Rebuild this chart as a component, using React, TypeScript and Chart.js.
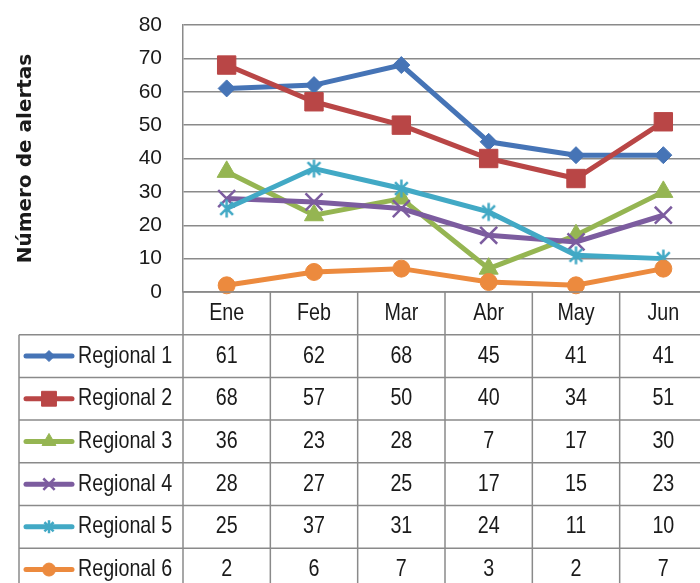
import React, { useEffect, useRef } from 'react';
import { Chart, registerables } from 'chart.js';

Chart.register(...registerables);

// ---- data ----
const categories = ['Ene', 'Feb', 'Mar', 'Abr', 'May', 'Jun'];
const seriesNames = ['Regional 1', 'Regional 2', 'Regional 3', 'Regional 4', 'Regional 5', 'Regional 6'];
const regional1 = [61, 62, 68, 45, 41, 41];
const regional2 = [68, 57, 50, 40, 34, 51];
const regional3 = [36, 23, 28, 7, 17, 30];
const regional4 = [28, 27, 25, 17, 15, 23];
const regional5 = [25, 37, 31, 24, 11, 10];
const regional6 = [2, 6, 7, 3, 2, 7];
const seriesValues = [regional1, regional2, regional3, regional4, regional5, regional6];
const yTitle = 'Número de alertas';
const yMin = 0;
const yMax = 80;
const yStep = 10;

// ---- styles ----
const colors = ['#4674B6', '#B94646', '#95B552', '#7C5C9F', '#42A9C5', '#EC8A3E'];
const markers = ['rectRot', 'rect', 'triangle', 'crossRot', 'asterisk', 'circle'];
const markerRadius = [8.5, 13, 11, 12, 9, 8.5];
const legendRadius = [5.5, 10.5, 8, 8, 6.5, 6.5];
const markerBorder = [1, 1, 1, 2.5, 2.5, 1];
const GRID = '#8a8a8a';
const TEXT = '#1a1a1a';

function drawMarker(ctx: CanvasRenderingContext2D, style: string, x: number, y: number, r: number, color: string, bw: number) {
  ctx.save();
  ctx.fillStyle = color;
  ctx.strokeStyle = color;
  ctx.lineWidth = bw;
  ctx.beginPath();
  const d = r * Math.SQRT1_2;
  switch (style) {
    case 'rectRot':
      ctx.moveTo(x, y - r);
      ctx.lineTo(x + r, y);
      ctx.lineTo(x, y + r);
      ctx.lineTo(x - r, y);
      ctx.closePath();
      ctx.fill();
      ctx.stroke();
      break;
    case 'rect':
      ctx.rect(x - d, y - d, 2 * d, 2 * d);
      ctx.fill();
      ctx.stroke();
      break;
    case 'triangle':
      ctx.moveTo(x, y - r);
      ctx.lineTo(x + r * 0.866, y + r * 0.5);
      ctx.lineTo(x - r * 0.866, y + r * 0.5);
      ctx.closePath();
      ctx.fill();
      ctx.stroke();
      break;
    case 'crossRot':
      ctx.moveTo(x - d, y - d);
      ctx.lineTo(x + d, y + d);
      ctx.moveTo(x + d, y - d);
      ctx.lineTo(x - d, y + d);
      ctx.stroke();
      break;
    case 'asterisk':
      ctx.moveTo(x - d, y - d);
      ctx.lineTo(x + d, y + d);
      ctx.moveTo(x + d, y - d);
      ctx.lineTo(x - d, y + d);
      ctx.moveTo(x, y - r);
      ctx.lineTo(x, y + r);
      ctx.stroke();
      break;
    default:
      ctx.arc(x, y, r, 0, Math.PI * 2);
      ctx.fill();
      ctx.stroke();
  }
  ctx.restore();
}

function markerCanvas(style: string, r: number, color: string, bw: number) {
  const size = Math.ceil(2 * r + 2 * bw + 2);
  const c = document.createElement('canvas');
  c.width = size;
  c.height = size;
  const cx = c.getContext('2d')!;
  drawMarker(cx, style, size / 2, size / 2, r, color, bw);
  return c;
}

function narrowText(ctx: CanvasRenderingContext2D, text: string, x: number, y: number, align: CanvasTextAlign) {
  ctx.save();
  ctx.translate(x, y);
  ctx.scale(0.82, 1);
  ctx.textAlign = align;
  ctx.textBaseline = 'middle';
  ctx.fillText(text, 0, 0);
  ctx.restore();
}

const tablePlugin = {
  id: 'dataTable',
  afterDraw(chart: any) {
    const { ctx, chartArea } = chart;
    const xs = chart.scales.x;
    const colW = xs.getPixelForValue(1) - xs.getPixelForValue(0);
    const left = chartArea.left;
    const right = left + colW * categories.length;
    const top = chartArea.bottom;
    const rowH = 42.7;
    const tableLeft = 19;
    const nRows = seriesNames.length + 1;
    const bottom = top + nRows * rowH;

    ctx.save();
    ctx.strokeStyle = GRID;
    ctx.lineWidth = 1.5;
    ctx.beginPath();
    for (let k = 0; k <= nRows; k++) {
      const y = top + k * rowH;
      ctx.moveTo(k === 0 ? left : tableLeft, y);
      ctx.lineTo(right, y);
    }
    for (let j = 0; j <= categories.length; j++) {
      const x = left + j * colW;
      ctx.moveTo(x, top);
      ctx.lineTo(x, bottom);
    }
    ctx.moveTo(tableLeft, top + rowH);
    ctx.lineTo(tableLeft, bottom);
    ctx.stroke();

    ctx.fillStyle = TEXT;
    ctx.font = '24px "Liberation Sans", Arial, sans-serif';
    categories.forEach((c, j) => {
      narrowText(ctx, c, xs.getPixelForValue(j), top + rowH / 2, 'center');
    });

    seriesNames.forEach((name, i) => {
      const cy = top + (i + 1.5) * rowH;
      ctx.save();
      ctx.strokeStyle = colors[i];
      ctx.lineWidth = 5;
      ctx.lineCap = 'round';
      ctx.beginPath();
      ctx.moveTo(26, cy);
      ctx.lineTo(72, cy);
      ctx.stroke();
      ctx.restore();
      drawMarker(ctx, markers[i], 49, cy, legendRadius[i], colors[i], markerBorder[i]);
      ctx.fillStyle = TEXT;
      narrowText(ctx, name, 78, cy, 'left');
      seriesValues[i].forEach((v, j) => {
        narrowText(ctx, String(v), xs.getPixelForValue(j), cy, 'center');
      });
    });
    ctx.restore();
  },
};

export default function App() {
  const ref = useRef<HTMLCanvasElement>(null);
  useEffect(() => {
    const canvas = ref.current!;
    const chart = new Chart(canvas, {
      type: 'line',
      data: {
        labels: categories,
        datasets: seriesValues.map((d, i) => ({
          label: seriesNames[i],
          data: d,
          borderColor: colors[i],
          backgroundColor: colors[i],
          borderWidth: 5,
          pointStyle: (markers[i] === 'asterisk'
            ? markerCanvas('asterisk', markerRadius[i], colors[i], markerBorder[i])
            : markers[i]) as any,
          pointRadius: markerRadius[i],
          pointBorderWidth: markerBorder[i],
          pointBackgroundColor: colors[i],
          pointBorderColor: colors[i],
          tension: 0,
          order: seriesValues.length - i,
          clip: false as any,
        })),
      },
      options: {
        animation: false,
        responsive: false,
        devicePixelRatio: 1,
        events: [],
        layout: { autoPadding: false, padding: { left: 14, top: 25, right: 1, bottom: 291 } },
        plugins: {
          legend: { display: false },
          tooltip: { enabled: false },
        },
        scales: {
          x: { type: 'category', offset: true, display: false },
          y: {
            min: yMin,
            max: yMax,
            ticks: {
              stepSize: yStep,
              padding: 21,
              color: TEXT,
              font: { family: '"Liberation Sans", Arial, sans-serif', size: 21 },
            },
            grid: { color: GRID, lineWidth: 1.5, drawTicks: false },
            border: { display: true, color: GRID, width: 1.5 },
            title: {
              display: true,
              text: yTitle,
              padding: 0,
              color: TEXT,
              font: { family: '"DejaVu Sans", sans-serif', size: 20, weight: 'bold' },
            },
            afterFit: (s: any) => {
              s.width = 183 - 14;
              s.paddingTop = 0;
              s.paddingBottom = 0;
            },
          },
        },
      },
      plugins: [tablePlugin],
    });
    return () => chart.destroy();
  }, []);
  return (
    <div style={{ position: 'fixed', left: 0, top: 0, width: 700, height: 583, overflow: 'hidden', background: '#fff' }}>
      <canvas ref={ref} width={708} height={583} style={{ display: 'block' }} />
    </div>
  );
}
